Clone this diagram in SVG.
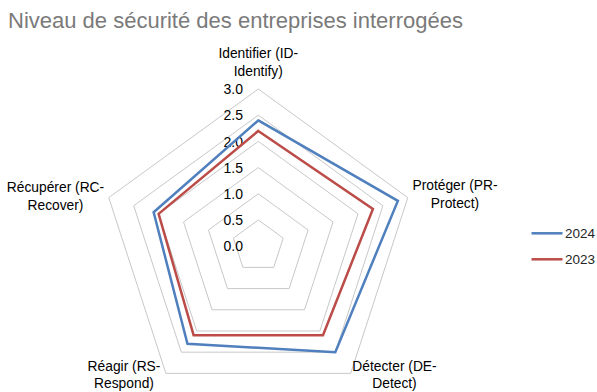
<svg xmlns="http://www.w3.org/2000/svg" width="597" height="392" viewBox="0 0 597 392">
  <style>
    .grid { fill: none; stroke: #c8c8c8; stroke-width: 1; }
    .series { fill: none; stroke-width: 2.5; stroke-linejoin: miter; }
    .s2024 { stroke: #4f7fbd; }
    .s2023 { stroke: #bb4c48; }
    .title { font-family: "Liberation Sans", Arial, sans-serif; font-size: 22px; fill: #7a7a7a; }
    .axis { font-family: "Liberation Sans", Arial, sans-serif; font-size: 13.8px; fill: #000; text-anchor: middle; }
    .tick { font-family: "Liberation Sans", Arial, sans-serif; font-size: 14px; fill: #000; text-anchor: end; }
    .legend { font-family: "Liberation Sans", Arial, sans-serif; font-size: 13.5px; fill: #262626; }
  </style>
  <rect width="597" height="392" fill="#ffffff"/>

  <text class="title" x="8" y="28">Niveau de sécurité des entreprises interrogées</text>

  <!-- radar grid: levels 0.5 to 3.0 -->
  <g id="grid" transform="translate(258.3,246.2)">
    <polygon class="grid" points="0,-26.2 24.92,-8.10 15.40,21.20 -15.40,21.20 -24.92,-8.10"/>
    <polygon class="grid" points="0,-52.4 49.84,-16.19 30.80,42.39 -30.80,42.39 -49.84,-16.19"/>
    <polygon class="grid" points="0,-78.6 74.76,-24.29 46.20,63.59 -46.20,63.59 -74.76,-24.29"/>
    <polygon class="grid" points="0,-104.8 99.68,-32.38 61.60,84.78 -61.60,84.78 -99.68,-32.38"/>
    <polygon class="grid" points="0,-131 124.59,-40.48 77.00,105.98 -77.00,105.98 -124.59,-40.48"/>
    <polygon class="grid" points="0,-157.2 149.51,-48.57 92.40,127.17 -92.40,127.17 -149.51,-48.57"/>
  </g>

  <!-- value scale -->
  <g id="scale">
    <text class="tick" x="243" y="94.2">3.0</text>
    <text class="tick" x="243" y="120.4">2.5</text>
    <text class="tick" x="243" y="146.6">2.0</text>
    <text class="tick" x="243" y="172.8">1.5</text>
    <text class="tick" x="243" y="199.0">1.0</text>
    <text class="tick" x="243" y="225.2">0.5</text>
    <text class="tick" x="243" y="251.4">0.0</text>
  </g>

  <!-- data series -->
  <g id="series" transform="translate(258.3,246.2)">
    <polygon id="series-2024" class="series s2024" points="0,-125.76 139.55,-45.34 77.00,105.98 -70.84,97.50 -104.66,-34.00"/>
    <polygon id="series-2023" class="series s2023" points="0,-115.28 114.63,-37.24 64.68,89.02 -64.68,89.02 -99.68,-32.38"/>
  </g>

  <!-- axis categories -->
  <g id="axis-identify">
    <text class="axis" x="258.3" y="58">Identifier (ID-</text>
    <text class="axis" x="258.3" y="75.5">Identify)</text>
  </g>
  <g id="axis-protect">
    <text class="axis" x="455" y="190">Protéger (PR-</text>
    <text class="axis" x="455" y="207.5">Protect)</text>
  </g>
  <g id="axis-detect">
    <text class="axis" x="394.5" y="370.5">Détecter (DE-</text>
    <text class="axis" x="394.5" y="388">Detect)</text>
  </g>
  <g id="axis-respond">
    <text class="axis" x="124" y="370.5">Réagir (RS-</text>
    <text class="axis" x="124" y="388">Respond)</text>
  </g>
  <g id="axis-recover">
    <text class="axis" x="55.5" y="192">Récupérer (RC-</text>
    <text class="axis" x="55.5" y="209.5">Recover)</text>
  </g>

  <!-- legend -->
  <g id="legend">
    <line x1="531.5" y1="233.3" x2="562.5" y2="233.3" class="series s2024"/>
    <text class="legend" x="565" y="238">2024</text>
    <line x1="531.5" y1="259.3" x2="562.5" y2="259.3" class="series s2023"/>
    <text class="legend" x="565" y="264">2023</text>
  </g>
</svg>
